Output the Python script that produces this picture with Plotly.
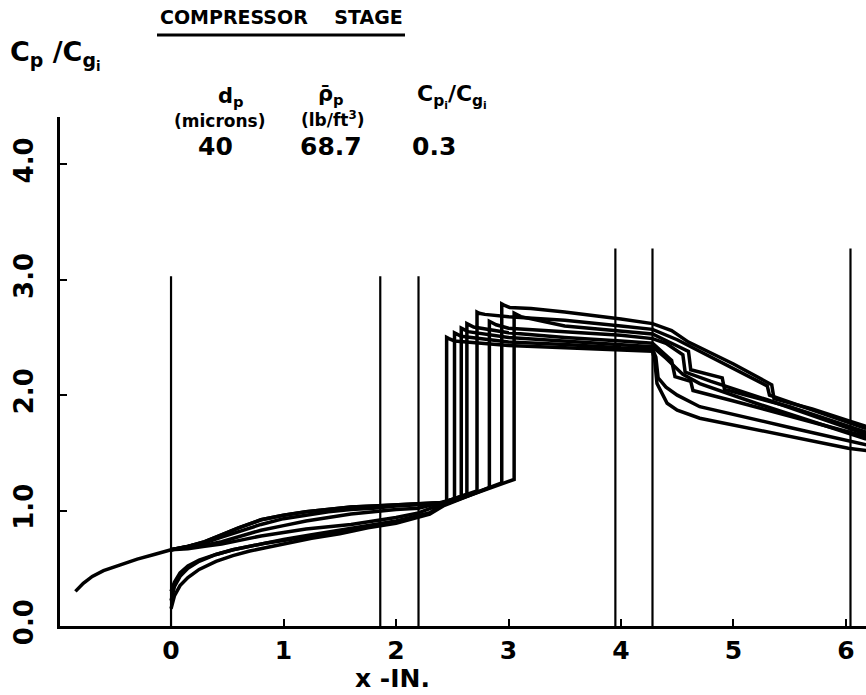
import plotly.graph_objects as go

# ---------------- data ----------------
x_ticks = [0, 1, 2, 3, 4, 5, 6]
x_tick_labels = ["0", "1", "2", "3", "4", "5", "6"]
y_ticks = [0, 1, 2, 3, 4]
y_tick_labels = ["0.0", "1.0", "2.0", "3.0", "4.0"]

# vertical station lines (x position, height)
station_x = [0.0, 1.86, 2.2, 3.95, 4.28, 6.04]
station_top = [3.03, 3.03, 3.03, 3.27, 3.27, 3.27]

# trajectories of Cp/Cgi vs x
c1_x = [-0.85, -0.78, -0.7, -0.6, -0.45, -0.3, -0.15, 0.0, 0.15, 0.3, 0.45, 0.6, 0.8, 1.0, 1.2, 1.4, 1.6, 1.8, 2.0, 2.2, 2.42, 2.45, 2.45, 2.47, 2.52, 3.0, 3.5, 4.0, 4.28, 4.30, 4.32, 4.41, 4.5, 4.7, 5.0, 5.3, 5.7, 6.02, 6.18]
c1_y = [0.30, 0.37, 0.43, 0.48, 0.53, 0.58, 0.62, 0.66, 0.69, 0.73, 0.79, 0.85, 0.92, 0.96, 0.99, 1.01, 1.03, 1.04, 1.05, 1.06, 1.07, 1.08, 2.50, 2.49, 2.47, 2.43, 2.41, 2.39, 2.38, 2.30, 2.10, 1.93, 1.87, 1.80, 1.74, 1.68, 1.60, 1.54, 1.52]

c2_x = [0.0, 0.15, 0.3, 0.45, 0.6, 0.8, 1.0, 1.2, 1.4, 1.6, 1.8, 2.0, 2.2, 2.42, 2.52, 2.52, 2.54, 2.58, 3.0, 3.5, 4.0, 4.28, 4.31, 4.33, 4.4, 4.5, 4.7, 5.0, 5.5, 6.18]
c2_y = [0.66, 0.68, 0.70, 0.73, 0.77, 0.83, 0.87, 0.91, 0.94, 0.97, 0.99, 1.01, 1.02, 1.07, 1.10, 2.54, 2.53, 2.51, 2.46, 2.44, 2.41, 2.40, 2.33, 2.15, 2.07, 2.00, 1.90, 1.83, 1.72, 1.57]

c3_x = [0.0, 0.15, 0.3, 0.45, 0.6, 0.8, 1.0, 1.2, 1.4, 1.6, 1.8, 2.0, 2.2, 2.42, 2.58, 2.58, 2.60, 2.64, 3.0, 3.5, 4.0, 4.28, 4.40, 4.55, 4.7, 5.2, 6.18]
c3_y = [0.66, 0.67, 0.69, 0.71, 0.74, 0.78, 0.81, 0.84, 0.86, 0.88, 0.91, 0.94, 0.98, 1.06, 1.12, 2.58, 2.57, 2.55, 2.50, 2.47, 2.44, 2.42, 2.32, 2.18, 2.10, 1.93, 1.62]

c4_x = [0.0, 0.15, 0.3, 0.45, 0.6, 0.8, 1.0, 1.2, 1.4, 1.6, 1.8, 2.0, 2.2, 2.42, 2.63, 2.63, 2.65, 2.69, 3.0, 3.5, 4.0, 4.28, 4.45, 4.48, 4.62, 4.64, 5.0, 5.5, 6.18]
c4_y = [0.66, 0.69, 0.72, 0.77, 0.82, 0.88, 0.93, 0.96, 0.99, 1.01, 1.02, 1.04, 1.05, 1.07, 1.14, 2.62, 2.61, 2.59, 2.54, 2.50, 2.47, 2.45, 2.30, 2.16, 2.12, 2.04, 1.95, 1.82, 1.64]

c5_x = [0.0, 0.15, 0.3, 0.45, 0.6, 0.8, 1.0, 1.2, 1.4, 1.6, 1.8, 2.0, 2.2, 2.42, 2.72, 2.72, 2.74, 2.79, 3.0, 3.5, 4.0, 4.28, 4.50, 4.90, 5.30, 5.32, 5.70, 6.18]
c5_y = [0.66, 0.69, 0.73, 0.79, 0.85, 0.92, 0.96, 0.99, 1.01, 1.03, 1.04, 1.05, 1.06, 1.07, 1.17, 2.72, 2.71, 2.70, 2.68, 2.65, 2.60, 2.57, 2.48, 2.28, 2.08, 2.00, 1.87, 1.71]

c6_x = [0.0, 0.03, 0.08, 0.15, 0.25, 0.4, 0.55, 0.7, 0.85, 1.0, 1.25, 1.5, 1.75, 2.0, 2.3, 2.42, 2.83, 2.83, 2.85, 2.89, 3.0, 3.5, 4.0, 4.28, 4.40, 4.55, 4.57, 4.80, 5.30, 6.18]
c6_y = [0.15, 0.26, 0.35, 0.42, 0.49, 0.56, 0.61, 0.65, 0.68, 0.71, 0.76, 0.80, 0.85, 0.89, 0.97, 1.04, 1.20, 2.64, 2.63, 2.61, 2.58, 2.55, 2.52, 2.49, 2.45, 2.35, 2.20, 2.12, 1.96, 1.66]

c7_x = [0.0, 0.03, 0.08, 0.15, 0.25, 0.4, 0.55, 0.7, 0.85, 1.0, 1.25, 1.5, 1.75, 2.0, 2.3, 2.42, 2.94, 2.94, 2.96, 3.01, 3.2, 3.5, 4.0, 4.28, 4.45, 4.60, 5.0, 5.34, 5.36, 5.70, 6.02, 6.18]
c7_y = [0.22, 0.34, 0.43, 0.50, 0.56, 0.62, 0.66, 0.69, 0.72, 0.74, 0.78, 0.82, 0.86, 0.90, 0.98, 1.05, 1.24, 2.79, 2.78, 2.76, 2.75, 2.72, 2.66, 2.62, 2.56, 2.46, 2.27, 2.09, 1.97, 1.88, 1.78, 1.73]

c8_x = [0.0, 0.03, 0.08, 0.15, 0.25, 0.4, 0.55, 0.7, 0.85, 1.0, 1.25, 1.5, 1.75, 2.0, 2.3, 2.42, 3.05, 3.05, 3.07, 3.11, 3.5, 4.0, 4.28, 4.45, 4.60, 4.62, 4.90, 4.92, 5.50, 6.18]
c8_y = [0.30, 0.38, 0.46, 0.52, 0.57, 0.62, 0.66, 0.69, 0.72, 0.75, 0.79, 0.83, 0.87, 0.91, 0.98, 1.05, 1.27, 2.71, 2.70, 2.68, 2.60, 2.56, 2.53, 2.45, 2.38, 2.22, 2.15, 2.05, 1.90, 1.68]

curves_x = [c1_x, c2_x, c3_x, c4_x, c5_x, c6_x, c7_x, c8_x]
curves_y = [c1_y, c2_y, c3_y, c4_y, c5_y, c6_y, c7_y, c8_y]

# ---------------- figure ----------------
W, H = 866, 695
L, R, T, B = 60, 0, 117, 69
X_RANGE = [-0.987, 6.178]
Y_RANGE = [0.0, 4.41]

def pxx(p):
    return (p - L) / (W - L - R)

def pxy(p):
    return (H - B - p) / (H - T - B)

fig = go.Figure()

for cx, cy in zip(curves_x, curves_y):
    fig.add_trace(go.Scatter(x=cx, y=cy, mode="lines",
                             line=dict(color="black", width=3.5),
                             hoverinfo="skip", showlegend=False))

sx, sy = [], []
for xv, top in zip(station_x, station_top):
    sx += [xv, xv, None]
    sy += [0, top, None]
fig.add_trace(go.Scatter(x=sx, y=sy, mode="lines", line=dict(color="black", width=2.2),
                         hoverinfo="skip", showlegend=False))

FONT = "DejaVu Sans"

fig.update_layout(
    width=W, height=H,
    margin=dict(l=L, r=R, t=T, b=B, pad=0),
    paper_bgcolor="white", plot_bgcolor="white",
    showlegend=False,
    font=dict(family=FONT, color="black"),
    xaxis=dict(range=X_RANGE, tickvals=x_ticks, ticktext=x_tick_labels,
               showgrid=False, zeroline=False, showline=True, linecolor="black", linewidth=3,
               ticks="inside", ticklen=7, tickwidth=2, tickcolor="black",
               ticklabelstandoff=0,
               tickfont=dict(size=25, family=FONT, weight="bold", color="black")),
    yaxis=dict(range=Y_RANGE, tickvals=y_ticks, ticktext=y_tick_labels,
               showgrid=False, zeroline=False, showline=True, linecolor="black", linewidth=3,
               ticks="inside", ticklen=7, tickwidth=2, tickcolor="black", tickangle=-90,
               ticklabelstandoff=14,
               tickfont=dict(size=26, family=FONT, weight="bold", color="black")),
)

def ann(text, x, y, size, xanchor="center", yanchor="middle"):
    fig.add_annotation(text=text, x=pxx(x), y=pxy(y), xref="paper", yref="paper",
                       showarrow=False, xanchor=xanchor, yanchor=yanchor,
                       font=dict(size=size, family=FONT, color="black", weight="bold"))

ann("C<sub>p</sub> /C<sub>g<sub>i</sub></sub>", 8, 55, 27, xanchor="left")
ann("COMPRESSOR    STAGE", 281, 17, 19)
ann("d<sub>p</sub>", 231, 97, 21)
ann("ρ̄<sub>p</sub>", 331, 95, 21)
ann("C<sub>p<sub>i</sub></sub>/C<sub>g<sub>i</sub></sub>", 452, 96, 22)
ann("(microns)", 219, 121, 17)
ann("(lb/ft<sup>3</sup>)", 333, 119, 17)
ann("40", 215, 146, 25)
ann("68.7", 331, 146, 25)
ann("0.3", 434, 146, 25)
ann("x -IN.", 392, 678, 25)

fig.add_shape(type="line", xref="paper", yref="paper",
              x0=pxx(157), x1=pxx(405), y0=pxy(35), y1=pxy(35),
              line=dict(color="black", width=3))

fig.write_html("out.html")
